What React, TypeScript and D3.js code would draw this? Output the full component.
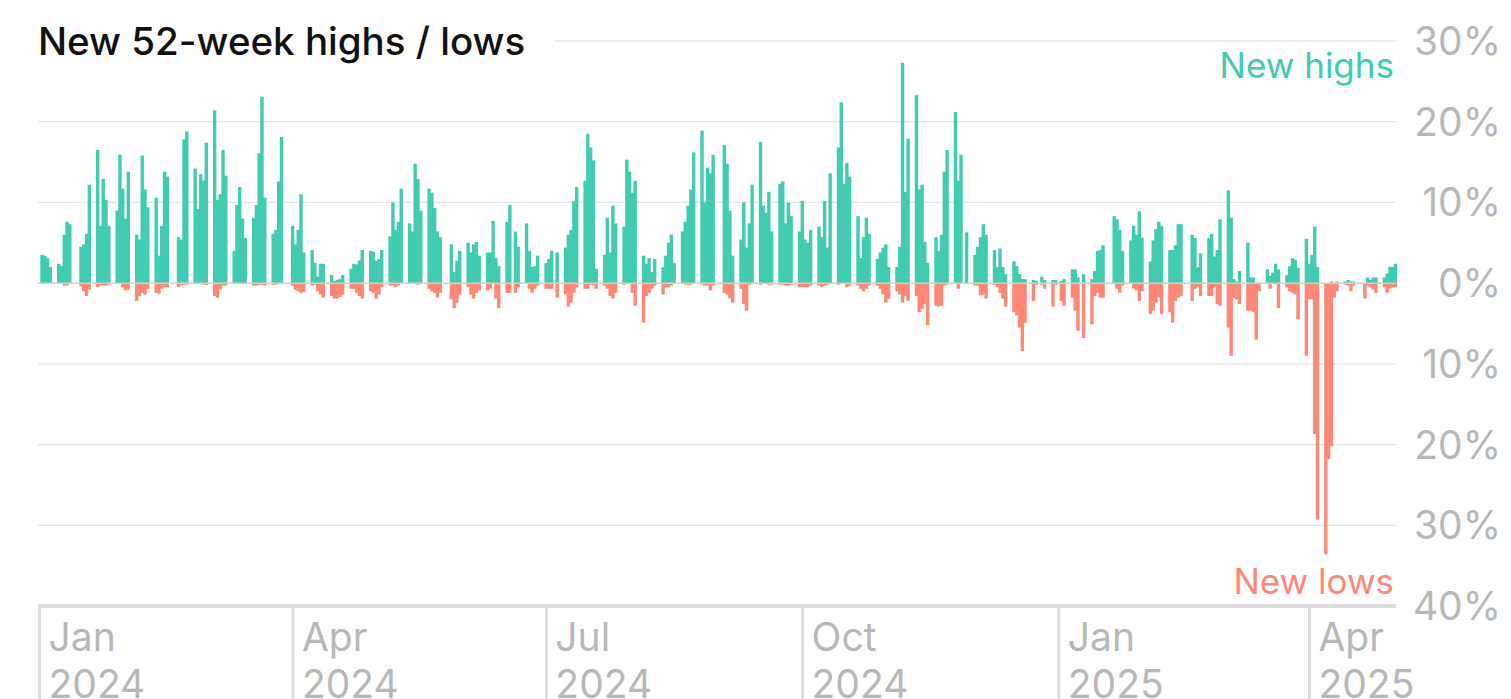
import React from "react";
import * as d3 from "d3";

// ---- data (percent of stocks), one value per trading day, Jan 2 2024 – May 2 2025 ----
const holidays = [
  "2024-01-01", "2024-01-15", "2024-02-19", "2024-03-29", "2024-05-27", "2024-06-19",
  "2024-07-04", "2024-09-02", "2024-11-28", "2024-12-25", "2025-01-01", "2025-01-09",
  "2025-01-20", "2025-02-17", "2025-04-18",
];
const startDate = "2024-01-02";
const endDate = "2025-05-02";

const highs = [
  3.5, 3.4, 3.1, 2.0,
  2.4, 2.1, 6.0, 7.6, 7.3,
  4.5, 4.8, 6.1, 12.2,
  16.5, 7.1, 12.9, 10.3, 7.1,
  9.0, 15.9, 11.7, 8.0, 13.8,
  6.0, 5.4, 15.8, 11.6, 9.4,
  10.6, 3.4, 7.1, 13.8, 13.2,
  5.7, 5.4, 17.8, 18.8,
  14.2, 9.2, 13.5, 12.7, 17.4,
  21.4, 10.3, 11.0, 16.5, 13.3,
  4.0, 9.7, 11.9, 8.0, 5.6,
  8.1, 9.7, 16.1, 23.1, 10.6,
  6.1, 6.6, 12.6, 18.1,
  7.1, 4.8, 6.6, 11.0, 3.8,
  4.1, 2.5, 0.8, 2.4, 2.4,
  1.0, 0.3, 0.4, 0.5, 1.0,
  1.8, 2.4, 2.3, 2.8, 4.1,
  4.0, 3.9, 2.8, 3.0, 4.1,
  5.8, 10.0, 6.6, 7.6, 11.7,
  7.4, 6.4, 14.8, 12.9, 9.0,
  11.7, 11.2, 9.3, 6.4, 5.7,
  4.8, 1.4, 2.8, 4.0,
  5.0, 3.8, 4.8, 5.1, 3.4,
  3.8, 3.8, 7.7, 3.1, 2.1,
  7.6, 9.7, 6.4, 4.5,
  7.4, 4.0, 2.0, 2.1, 3.4,
  2.5, 3.0, 4.0, 3.8,
  4.4, 6.0, 6.6, 10.2, 11.9,
  12.7, 18.5, 16.8, 15.2, 1.8,
  3.5, 8.1, 3.8, 9.6, 7.4,
  7.0, 15.3, 13.8, 11.2, 12.7,
  3.4, 2.4, 3.1, 1.4, 3.0,
  2.0, 3.4, 5.0, 6.0, 2.5,
  6.4, 7.6, 9.6, 11.6, 16.2,
  18.9, 10.0, 14.3, 13.6, 15.9,
  17.1, 14.8, 9.0, 3.4,
  5.4, 10.0, 4.4, 7.4, 12.2,
  17.5, 9.6, 8.7, 11.3, 6.4,
  12.3, 12.6, 7.4, 10.0, 8.3,
  6.4, 10.2, 5.4, 5.0, 6.6,
  7.0, 5.7, 10.2, 4.4, 13.6,
  16.8, 22.4, 12.3, 14.9, 13.2,
  8.3, 3.1, 5.7, 8.1, 6.1,
  3.0, 3.8, 4.4, 4.8, 2.0,
  2.0, 4.5, 27.3, 11.3, 17.9,
  23.3, 11.6, 12.2, 5.1, 2.5,
  5.7, 4.0, 6.0, 13.8, 16.5,
  21.2, 12.7, 15.9, 6.3,
  3.5, 4.5, 5.7, 7.3, 6.0,
  4.1, 2.0, 4.3, 2.0, 1.1,
  2.7, 2.1, 1.1, 0.5, 0.5,
  0.4, 0.3, 0.8, 0.4,
  0.4, 0.4, 0.3, 0.5,
  1.7, 1.7, 0.7, 1.1,
  0.5, 1.5, 4.0, 4.1, 4.7,
  8.3, 7.9, 6.6, 4.0,
  5.3, 7.1, 6.0, 8.9, 5.6,
  2.7, 5.3, 6.7, 7.6, 7.1,
  4.1, 4.1, 4.7, 7.3, 7.3,
  6.0, 5.6, 2.0, 3.7,
  5.6, 6.1, 3.3, 4.1, 7.9,
  11.5, 8.1, 0.5, 0.2, 1.5,
  5.0, 0.7, 0.7, 0.0, 0.1,
  1.7, 0.9, 1.3, 2.4, 1.7,
  1.0, 2.1, 3.1, 2.9, 1.9,
  5.5, 2.4, 3.5, 7.0, 2.0,
  0.0, 0.0, 0.2, 0.0, 0.2,
  0.2, 0.4, 0.2, 0.2,
  0.0, 0.7, 0.4, 0.7, 0.7,
  0.7, 1.2, 2.0, 2.0, 2.4,
];

const lows = [
  0.0, 0.0, 0.0, 0.0,
  0.0, 0.0, 0.3, 0.3, 0.1,
  0.4, 1.0, 1.6, 0.8,
  0.5, 0.3, 0.3, 0.3, 0.2,
  0.0, 0.0, 0.5, 0.9, 0.8,
  2.2, 1.6, 1.2, 1.4, 0.7,
  1.2, 1.3, 0.7, 0.5, 0.5,
  0.5, 0.3, 0.2, 0.2,
  0.1, 0.1, 0.1, 0.2, 0.2,
  1.6, 1.8, 0.8, 0.3, 0.3,
  0.0, 0.0, 0.0, 0.0, 0.0,
  0.3, 0.3, 0.2, 0.2, 0.3,
  0.2, 0.2, 0.1, 0.1,
  0.3, 0.8, 1.0, 1.2, 1.1,
  0.3, 0.2, 1.0, 1.4, 1.8,
  1.6, 1.9, 1.9, 1.7, 1.4,
  0.7, 0.7, 1.2, 1.6, 1.9,
  1.0, 1.2, 1.9, 1.4, 0.5,
  0.3, 0.3, 0.5, 0.3, 0.1,
  0.1, 0.1, 0.1, 0.2, 0.1,
  0.7, 1.0, 1.2, 1.8, 1.2,
  2.0, 3.1, 2.4, 1.4,
  0.5, 1.4, 1.9, 1.2, 0.9,
  0.9, 0.7, 0.1, 1.9, 3.1,
  1.2, 1.2, 1.2, 0.5,
  0.1, 0.7, 1.2, 0.7, 0.3,
  0.7, 0.7, 0.7, 1.8,
  1.4, 2.9, 2.4, 1.2, 0.5,
  0.7, 0.7, 0.2, 0.3, 0.7,
  0.3, 0.7, 1.6, 1.9, 1.2,
  0.2, 0.1, 0.1, 1.2, 2.8,
  4.9, 1.6, 1.2, 0.7, 0.3,
  1.4, 0.5, 0.5, 0.3, 0.1,
  0.1, 0.2, 0.2, 0.2, 0.1,
  0.2, 0.3, 0.3, 0.9, 0.3,
  1.2, 1.4, 1.9, 2.4,
  0.7, 2.6, 3.4, 0.2, 0.1,
  0.2, 0.1, 0.1, 0.2, 0.2,
  0.2, 0.2, 0.3, 0.3, 0.2,
  0.5, 0.5, 0.5, 0.5, 0.3,
  0.3, 0.5, 0.3, 0.2, 0.1,
  0.2, 0.1, 0.0, 0.5, 0.3,
  0.3, 0.7, 1.0, 0.7, 0.3,
  0.3, 0.7, 1.4, 2.4, 1.9,
  1.0, 1.4, 2.4, 1.6, 2.2,
  1.6, 3.6, 3.2, 2.6, 5.2,
  2.8, 2.9, 2.8, 0.3, 0.2,
  0.0, 0.7, 0.0, 0.0,
  0.3, 0.3, 1.5, 1.4, 1.9,
  0.2, 0.5, 1.2, 1.9, 2.9,
  3.6, 4.0, 5.5, 8.4, 4.9,
  2.2, 0.2, 0.2, 0.7,
  2.9, 0.2, 2.2, 2.8,
  1.8, 3.4, 5.9, 6.8,
  5.1, 1.6, 1.2, 1.8, 1.8,
  0.1, 0.7, 1.2, 0.3,
  0.1, 0.7, 0.9, 2.2, 1.0,
  3.8, 3.4, 2.4, 1.8, 3.8,
  3.6, 4.9, 2.2, 1.8, 1.6,
  2.2, 0.7, 0.5, 1.6,
  1.6, 1.6, 0.5, 2.6, 2.8,
  5.5, 9.0, 1.8, 2.0, 2.6,
  3.4, 3.4, 3.6, 7.0, 1.0,
  0.1, 0.7, 0.1, 0.1, 3.1,
  0.5, 1.0, 1.2, 1.4, 4.5,
  9.0, 2.0, 2.0, 18.7, 29.3,
  33.6, 21.8, 20.2, 1.8, 1.0,
  0.2, 0.3, 1.0, 0.3,
  1.9, 0.3, 0.5, 0.8, 1.2,
  0.5, 1.2, 0.7, 0.5, 0.5,
];

const yTicks = [30, 20, 10, 0, -10, -20, -30, -40];
const xTickDates = ["2024-01-01", "2024-04-01", "2024-07-01", "2024-10-01", "2025-01-01", "2025-04-01"];
const titleText = "New 52-week highs / lows";

const W = 1511;
const H = 699;
const TEAL = "#41cbb0";
const SALMON = "#fe8877";
const GRID = "#e4e4e4";
const AXIS_TEXT = "#b8b8b8";
const FONT = "Inter, 'Noto Sans', sans-serif";

function tradingDays(): Date[] {
  const hol = new Set(holidays);
  const out: Date[] = [];
  const d = new Date(startDate + "T00:00:00Z");
  const end = new Date(endDate + "T00:00:00Z");
  while (d <= end) {
    const wd = d.getUTCDay();
    const iso = d.toISOString().slice(0, 10);
    if (wd !== 0 && wd !== 6 && !hol.has(iso)) out.push(new Date(d));
    d.setUTCDate(d.getUTCDate() + 1);
  }
  return out;
}

export default function App() {
  const days = tradingDays();
  const pxPerDay = 2.785;
  const x0 = 37.5;
  const domStart = new Date("2024-01-01T00:00:00Z");
  const domEnd = new Date("2025-05-03T00:00:00Z");
  const nDays = (domEnd.getTime() - domStart.getTime()) / 86400000;
  const x = d3.scaleUtc().domain([domStart, domEnd]).range([x0, x0 + nDays * pxPerDay]);
  const y = d3.scaleLinear().domain([-40, 30]).range([606, 41]);

  const plotLeft = 38;
  const plotRight = 1396;

  const bars = days.map((d, i) => {
    const next = new Date(d.getTime() + 86400000);
    return { d, x: x(d), w: x(next) - x(d), hi: highs[i] ?? 0, lo: lows[i] ?? 0 };
  });

  return (
    <svg
      width={W}
      height={H}
      style={{ position: "fixed", left: 0, top: 0, display: "block", background: "#fff" }}
      fontFamily={FONT}
    >
      {/* gridlines */}
      {yTicks
        .filter((t) => t !== -40 && t !== 0)
        .map((t) => (
          <line
            key={"g" + t}
            x1={t === 30 ? 555 : plotLeft}
            x2={plotRight}
            y1={y(t)}
            y2={y(t)}
            stroke={GRID}
            strokeWidth={1.3}
          />
        ))}
      {/* bars */}
      {bars.map((b, i) => (
        <g key={"b" + i}>
          {b.hi > 0 && (
            <rect x={b.x} y={y(b.hi)} width={b.w + 0.6} height={y(0) - y(b.hi)} fill={TEAL} />
          )}
          {b.lo > 0 && (
            <rect x={b.x} y={y(0)} width={b.w + 0.6} height={y(-b.lo) - y(0)} fill={SALMON} />
          )}
        </g>
      ))}
      {/* zero line */}
      <line x1={plotLeft} x2={plotRight} y1={y(0)} y2={y(0)} stroke="#d0d0d0" strokeWidth={1.5} />
      {/* bottom axis */}
      <line x1={plotLeft} x2={plotRight} y1={y(-40)} y2={y(-40)} stroke="#dcdcdc" strokeWidth={4} />
      {xTickDates.map((s) => {
        const d = new Date(s + "T00:00:00Z");
        const xx = x(d) + 2;
        const mon = d3.utcFormat("%b")(d);
        const yr = d3.utcFormat("%Y")(d);
        return (
          <g key={s}>
            <line x1={xx} x2={xx} y1={y(-40)} y2={H} stroke="#dcdcdc" strokeWidth={3} />
            <text x={xx + 9} y={651} fontSize={39} fill={AXIS_TEXT}>
              {mon}
            </text>
            <text x={xx + 9} y={698} fontSize={39} fill={AXIS_TEXT}>
              {yr}
            </text>
          </g>
        );
      })}
      {/* right axis labels */}
      {yTicks.map((t) => (
        <text
          key={"t" + t}
          x={1501}
          y={y(t)}
          dy="0.36em"
          textAnchor="end"
          fontSize={39}
          fill={AXIS_TEXT}
        >
          {Math.abs(t) + "%"}
        </text>
      ))}
      {/* title */}
      <text x={38} y={55} fontSize={38.5} fontWeight={500} fill="#111">
        {titleText}
      </text>
      {/* series labels */}
      <text x={1394} y={78} textAnchor="end" fontSize={35} fill={TEAL}>
        New highs
      </text>
      <text x={1394} y={594} textAnchor="end" fontSize={35} fill={SALMON}>
        New lows
      </text>
    </svg>
  );
}
